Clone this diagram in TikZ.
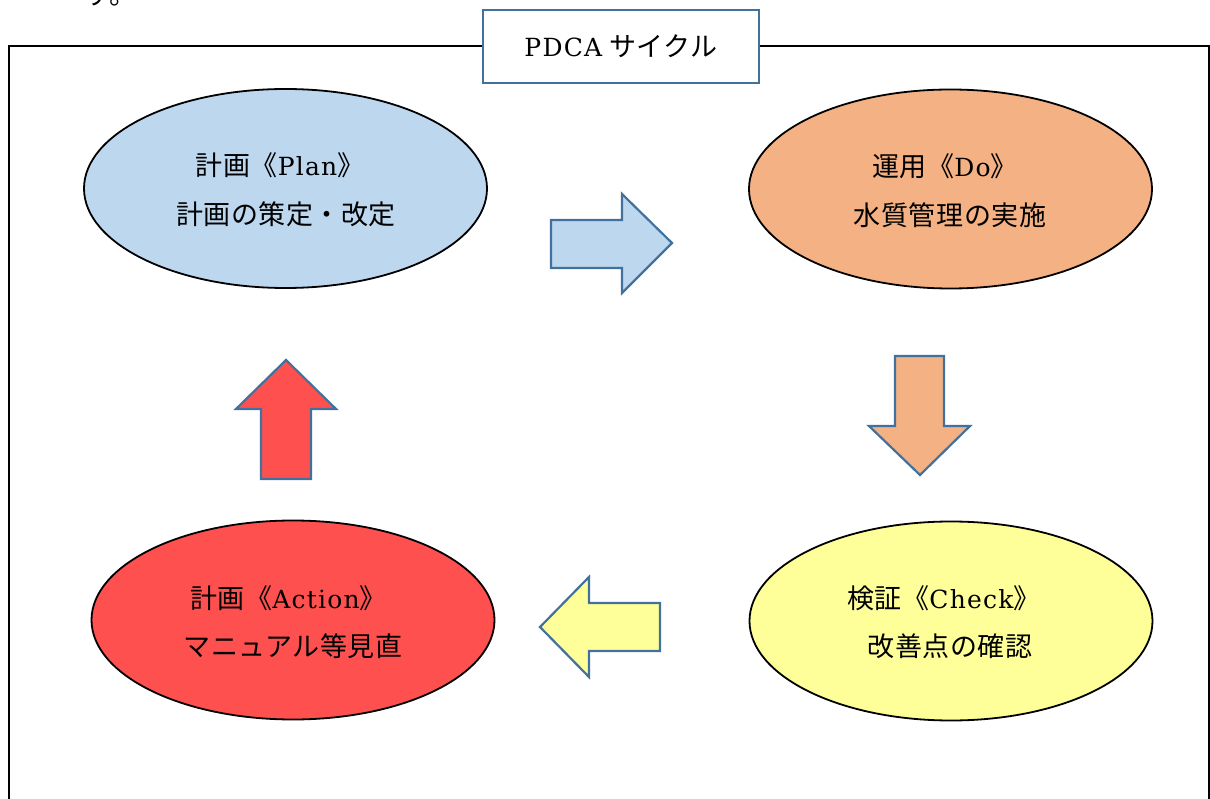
\documentclass[tikz,border=0pt]{standalone}
\usepackage{fontspec}
\setmainfont{DejaVu Serif}[LetterSpace=5]
\newfontfamily\jp{Noto Sans CJK JP}[Scale=1.08, LetterSpace=2]
\definecolor{planblue}{HTML}{BDD7EE}
\definecolor{doorange}{HTML}{F4B183}
\definecolor{checkyellow}{HTML}{FFFF99}
\definecolor{actred}{HTML}{FF5050}
\definecolor{edgeblue}{HTML}{41719C}
\usetikzlibrary{shapes.geometric}
\tikzset{
  phase/.style={ellipse, draw=black, line width=1.8pt, minimum width=403pt, minimum height=199pt, inner sep=0pt},
  lbl/.style={font=\fontsize{25}{30}\selectfont, inner sep=0pt, text=black},
  titlebox/.style={draw=edgeblue, line width=2pt, fill=white, minimum width=276pt, minimum height=73pt, font=\fontsize{25}{30}\selectfont},
  blockarrow/.style={draw=edgeblue, line width=2.2pt, line join=miter},
  frame/.style={draw=black, line width=2pt}
}
\begin{document}
\begin{tikzpicture}[x=1pt,y=-1pt]
\useasboundingbox (0,0) rectangle (1210,799);
% fragment of preceding text, cut off at the top
\node[lbl, anchor=base west] (frag) at (84,5) {\jp す。};
% outer frame
\coordinate (fbl) at (9,830);
\coordinate (ftl) at (9,46);
\coordinate (ftr) at (1209,46);
\coordinate (fbr) at (1209,830);
\draw[frame] (fbl) -- (ftl) -- (ftr) -- (fbr);
% title
\node[titlebox] (title) at (621,46.5) {PDCA\hspace{7pt}{\jp サイクル}};
% phases
\node[phase, fill=planblue] (plan) at (285.5,188.5) {};
\node[phase, fill=doorange] (do) at (950.5,189) {};
\node[phase, fill=checkyellow] (check) at (951,621) {};
\node[phase, fill=actred] (act) at (293,620) {};
\node[lbl] (plan1) at (280,165) {{\jp 計画《}Plan{\jp 》}};
\node[lbl] (plan2) at (286,214) {\jp 計画の策定・改定};
\node[lbl] (do1) at (945,166) {{\jp 運用《}Do{\jp 》}};
\node[lbl] (do2) at (950,215) {\jp 水質管理の実施};
\node[lbl] (check1) at (944,598) {{\jp 検証《}Check{\jp 》}};
\node[lbl] (check2) at (950,646) {\jp 改善点の確認};
\node[lbl] (act1) at (288.5,598) {{\jp 計画《}Action{\jp 》}};
\node[lbl] (act2) at (293,646) {\jp マニュアル等見直};
% block arrows
\draw[blockarrow, fill=planblue] (551,220) -- (622,220) -- (622,194) -- (672,243) -- (622,293) -- (622,268) -- (551,268) -- cycle;
\draw[blockarrow, fill=doorange] (895,356) -- (944,356) -- (944,426) -- (970,426) -- (920,475) -- (869,426) -- (895,426) -- cycle;
\draw[blockarrow, fill=checkyellow] (660,603) -- (589,603) -- (589,577) -- (540,627) -- (589,677) -- (589,651) -- (660,651) -- cycle;
\draw[blockarrow, fill=actred] (261,479) -- (261,409) -- (236,409) -- (286,360) -- (336,409) -- (311,409) -- (311,479) -- cycle;
\end{tikzpicture}
\end{document}
